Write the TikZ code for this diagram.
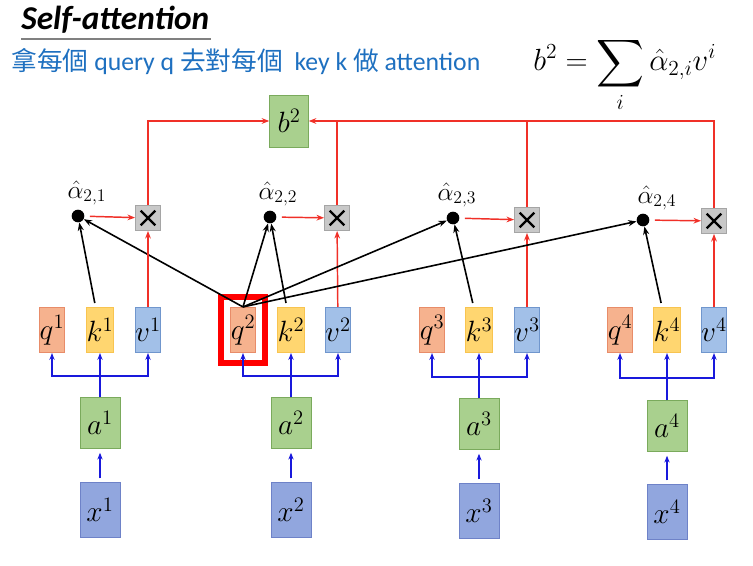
\RequirePackage{fix-cm}
\documentclass[tikz,border=0pt]{standalone}
\usepackage{amsmath}
\usepackage{fontspec}
\setmainfont{Carlito}
\newfontfamily\cjkfont{Noto Sans CJK TC}
\usetikzlibrary{arrows.meta, positioning, calc, fit}
\definecolor{qfill}{RGB}{246, 178, 142}
\definecolor{qdraw}{RGB}{232, 140, 105}
\definecolor{kfill}{RGB}{255, 214, 112}
\definecolor{kdraw}{RGB}{248, 196, 80}
\definecolor{vfill}{RGB}{162, 192, 232}
\definecolor{vdraw}{RGB}{112, 150, 205}
\definecolor{afill}{RGB}{169, 208, 142}
\definecolor{adraw}{RGB}{122, 170, 92}
\definecolor{xfill}{RGB}{145, 166, 222}
\definecolor{xdraw}{RGB}{110, 130, 200}
\definecolor{mulfill}{RGB}{200, 200, 200}
\definecolor{muldraw}{RGB}{165, 165, 165}
\definecolor{subblue}{RGB}{30, 112, 192}
\definecolor{attnred}{RGB}{240, 48, 40}
\definecolor{inpblue}{RGB}{25, 25, 220}
\tikzset{
  >=Stealth,
  vecbox/.style={minimum width=19pt, minimum height=34pt, inner sep=0pt, line width=0.6pt, font={\fontsize{22}{24}\selectfont}},
  qbox/.style={vecbox, draw=qdraw, fill=qfill},
  kbox/.style={vecbox, draw=kdraw, fill=kfill},
  vbox/.style={vecbox, draw=vdraw, fill=vfill},
  abox/.style={vecbox, draw=adraw, fill=afill, minimum width=30pt, minimum height=38pt},
  xbox/.style={vecbox, draw=xdraw, fill=xfill, minimum width=30pt, minimum height=41pt},
  bbox/.style={vecbox, draw=adraw, fill=afill, minimum width=29pt, minimum height=39pt},
  mulbox/.style={draw=muldraw, fill=mulfill, minimum size=19pt, inner sep=0pt,
    path picture={\draw[black, line width=1.8pt] ([shift={(-5.5pt,-5.5pt)}]path picture bounding box.center) -- ([shift={(5.5pt,5.5pt)}]path picture bounding box.center)
      ([shift={(-5.5pt,5.5pt)}]path picture bounding box.center) -- ([shift={(5.5pt,-5.5pt)}]path picture bounding box.center);}},
  attndot/.style={circle, fill=black, minimum size=9.5pt, inner sep=0pt},
  alphalbl/.style={inner sep=0pt, font={\fontsize{19}{20}\selectfont}},
  redarrow/.style={-{Stealth[length=2mm, width=1.5mm]}, line width=1.1pt, attnred},
  redline/.style={line width=1.1pt, attnred},
  bluearrow/.style={-{Stealth[length=1.8mm, width=1.4mm]}, line width=1.5pt, inpblue},
  blueline/.style={line width=1.5pt, inpblue},
  blackarrow/.style={-{Stealth[length=2.2mm, width=1.6mm]}, line width=1.2pt, black}
}
\begin{document}
\begin{tikzpicture}[x=0.75pt, y=-0.75pt]
    \useasboundingbox (0,0) rectangle (753,566);

    % --- TITLE & FORMULA ---
    \node[anchor=base west, inner sep=0pt, font={\fontsize{25}{28}\selectfont\bfseries\itshape}] (title) at (21,30) {Self-attention};
    \draw[gray, line width=1.3pt] ([yshift=-7pt]title.base west) -- ([yshift=-7pt, xshift=1pt]title.base east);
    \node[anchor=base west, inner sep=0pt, font={\fontsize{19.3}{21}\selectfont}, text=subblue] (subtitle) at (11,71)
        {{\cjkfont 拿每個} query q {\cjkfont 去對每個}\ \ key k {\cjkfont 做} attention};
    \node[anchor=base west, inner sep=0pt, font={\fontsize{23}{25}\selectfont}] (formula) at (533,71)
        {$\displaystyle b^2=\sum_i \hat{\alpha}_{2,i}v^i$};

    % --- OUTPUT b^2 ---
    \node[bbox] (b) at (289,121) {$b^2$};

    % --- ATTENTION SCORES & PRODUCTS ---
    \node[attndot] (dot1) at (78,216) {};
    \node[attndot] (dot2) at (270,217) {};
    \node[attndot] (dot3) at (453,218) {};
    \node[attndot] (dot4) at (643,220) {};
    \node[alphalbl] at (87,193) {$\hat{\alpha}_{2,1}$};
    \node[alphalbl] at (278,194) {$\hat{\alpha}_{2,2}$};
    \node[alphalbl] at (457,195) {$\hat{\alpha}_{2,3}$};
    \node[alphalbl] at (657,198) {$\hat{\alpha}_{2,4}$};
    \node[mulbox] (mul1) at (148,218) {};
    \node[mulbox] (mul2) at (337,218) {};
    \node[mulbox] (mul3) at (527,220) {};
    \node[mulbox] (mul4) at (714,221) {};

    % --- q, k, v ---
    \node[qbox] (q1) at (52,330) {$q^1$};
    \node[kbox] (k1) at (100,330) {$k^1$};
    \node[vbox] (v1) at (148,330) {$v^1$};
    \node[qbox] (q2) at (243,330) {$q^2$};
    \node[kbox] (k2) at (291,330) {$k^2$};
    \node[vbox] (v2) at (338,330) {$v^2$};
    \node[qbox] (q3) at (432,330) {$q^3$};
    \node[kbox] (k3) at (479,330) {$k^3$};
    \node[vbox] (v3) at (527,330) {$v^3$};
    \node[qbox] (q4) at (620,330) {$q^4$};
    \node[kbox] (k4) at (667,330) {$k^4$};
    \node[vbox] (v4) at (714,330) {$v^4$};
    \node[draw=red, line width=4.5pt, fit=(q2), inner xsep=6.5pt, inner ysep=7.5pt] (focus) {};

    % --- INPUTS a, x ---
    \node[abox] (a1) at (100,423) {$a^1$};
    \node[abox] (a2) at (291,423) {$a^2$};
    \node[abox] (a3) at (479,424) {$a^3$};
    \node[abox] (a4) at (667,426) {$a^4$};
    \node[xbox] (x1) at (100,510) {$x^1$};
    \node[xbox] (x2) at (291,510) {$x^2$};
    \node[xbox] (x3) at (479,511) {$x^3$};
    \node[xbox] (x4) at (667,512) {$x^4$};
    \coordinate (br1) at (100,376);
    \coordinate (br2) at (291,376);
    \coordinate (br3) at (479,377);
    \coordinate (br4) at (667,378);

    % x -> a -> (q, k, v)
    \foreach \i in {1,2,3,4} {
        \draw[bluearrow, shorten <=3pt, shorten >=3pt] (x\i) -- (a\i);
        \draw[blueline] (a\i) -- (br\i);
        \draw[bluearrow] (br\i) -| (q\i);
        \draw[bluearrow] (br\i) -- (k\i);
        \draw[bluearrow] (br\i) -| (v\i);
        % scores and weighting
        \draw[blackarrow, shorten <=3pt] (k\i) -- (dot\i);
        \draw[blackarrow] (q2.north) -- (dot\i);
        \draw[redarrow] (v\i) -- (mul\i);
        \draw[redarrow, shorten <=4pt] (dot\i) -- (mul\i);
    }

    % --- SUM INTO b^2 ---
    \draw[redarrow] (mul1) |- (b);
    \draw[redarrow] (mul4) |- (b);
    \draw[redline] (mul2) -- (mul2 |- b);
    \draw[redline] (mul3) -- (mul3 |- b);
\end{tikzpicture}
\end{document}
